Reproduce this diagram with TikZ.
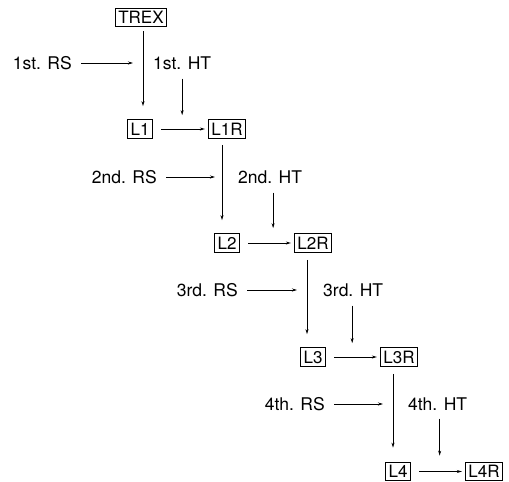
\documentclass[tikz,border=0pt]{standalone}
\usepackage{fontspec}
\setmainfont{TeX Gyre Heros}
\usetikzlibrary{arrows.meta}
\begin{document}
\begin{tikzpicture}[x=1pt,y=-1pt,
  box/.style={draw, line width=1.1pt, inner xsep=3pt, inner ysep=3.2pt,
    text height=12.2pt, text depth=0pt, font=\fontsize{17}{20}\selectfont},
  lbl/.style={inner sep=0pt, font=\fontsize{17.5}{20}\selectfont},
  arr/.style={line width=0.8pt, -{Stealth[length=5pt,width=3pt]}}]
\useasboundingbox (0,0) rectangle (509,482);

% boxes
\node[box] (TREX) at (141,17.5) {TREX};
\node[box] (L1)  at (140,129) {L1};
\node[box] (L1R) at (227,129) {L1R};
\node[box] (L2)  at (227,243) {L2};
\node[box] (L2R) at (313,243) {L2R};
\node[box] (L3)  at (313,357) {L3};
\node[box] (L3R) at (399,357) {L3R};
\node[box] (L4)  at (398,471.5) {L4};
\node[box] (L4R) at (484,471.5) {L4R};

% labels
\node[lbl, anchor=east] (RS1) at (72,63) {1st. RS};
\node[lbl, anchor=east] (RS2) at (157,177) {2nd. RS};
\node[lbl, anchor=east] (RS3) at (238,290) {3rd. RS};
\node[lbl, anchor=east] (RS4) at (325,404) {4th. RS};
\node[lbl, anchor=west] (HT1) at (153,63) {1st. HT};
\node[lbl, anchor=west] (HT2) at (238,177) {2nd. HT};
\node[lbl, anchor=west] (HT3) at (323,290) {3rd. HT};
\node[lbl, anchor=west] (HT4) at (408,404) {4th. HT};

% main vertical lines
\draw[arr, shorten <=4pt, shorten >=13pt] ([xshift=2pt]TREX.south) -- ([xshift=2pt]TREX.south |- L1.north);
\draw[arr, shorten <=6pt, shorten >=13pt] ([xshift=-5pt]L1R.south) -- ([xshift=-5pt]L1R.south |- L2.north);
\draw[arr, shorten <=7pt, shorten >=13pt] ([xshift=-6pt]L2R.south) -- ([xshift=-6pt]L2R.south |- L3.north);
\draw[arr, shorten <=7pt, shorten >=14pt] ([xshift=-6pt]L3R.south) -- ([xshift=-6pt]L3R.south |- L4.north);

% points on the vertical lines
\coordinate (v1) at ([xshift=2pt]TREX.south |- RS1.east);
\coordinate (v2) at ([xshift=-5pt]L1R.south |- RS2.east);
\coordinate (v3) at ([xshift=-6pt]L2R.south |- RS3.east);
\coordinate (v4) at ([xshift=-6pt]L3R.south |- RS4.east);

% RS arrows
\draw[arr, shorten <=9pt, shorten >=10pt] (RS1.east) -- (v1);
\draw[arr, shorten <=9pt, shorten >=7pt] (RS2.east) -- (v2);
\draw[arr, shorten <=9pt, shorten >=10pt] (RS3.east) -- (v3);
\draw[arr, shorten <=9pt, shorten >=10pt] (RS4.east) -- (v4);

% HT arrows
\draw[arr, shorten <=9pt, shorten >=4pt] (HT1.south) -- (HT1.south |- L1R.north);
\draw[arr, shorten <=9pt, shorten >=5pt] ([xshift=3pt]HT2.south) -- ([xshift=3pt]HT2.south |- L2R.north);
\draw[arr, shorten <=9pt, shorten >=4pt] ([xshift=-1pt]HT3.south) -- ([xshift=-1pt]HT3.south |- L3R.north);
\draw[arr, shorten <=8pt, shorten >=6pt] ([xshift=2pt]HT4.south) -- ([xshift=2pt]HT4.south |- L4R.north);

% horizontal arrows
\draw[arr, shorten <=8pt, shorten >=3pt] (L1.east) -- (L1R.west);
\draw[arr, shorten <=8pt, shorten >=3pt] (L2.east) -- (L2R.west);
\draw[arr, shorten <=8pt, shorten >=3pt] (L3.east) -- (L3R.west);
\draw[arr, shorten <=8pt, shorten >=3pt] (L4.east) -- (L4R.west);
\end{tikzpicture}
\end{document}
